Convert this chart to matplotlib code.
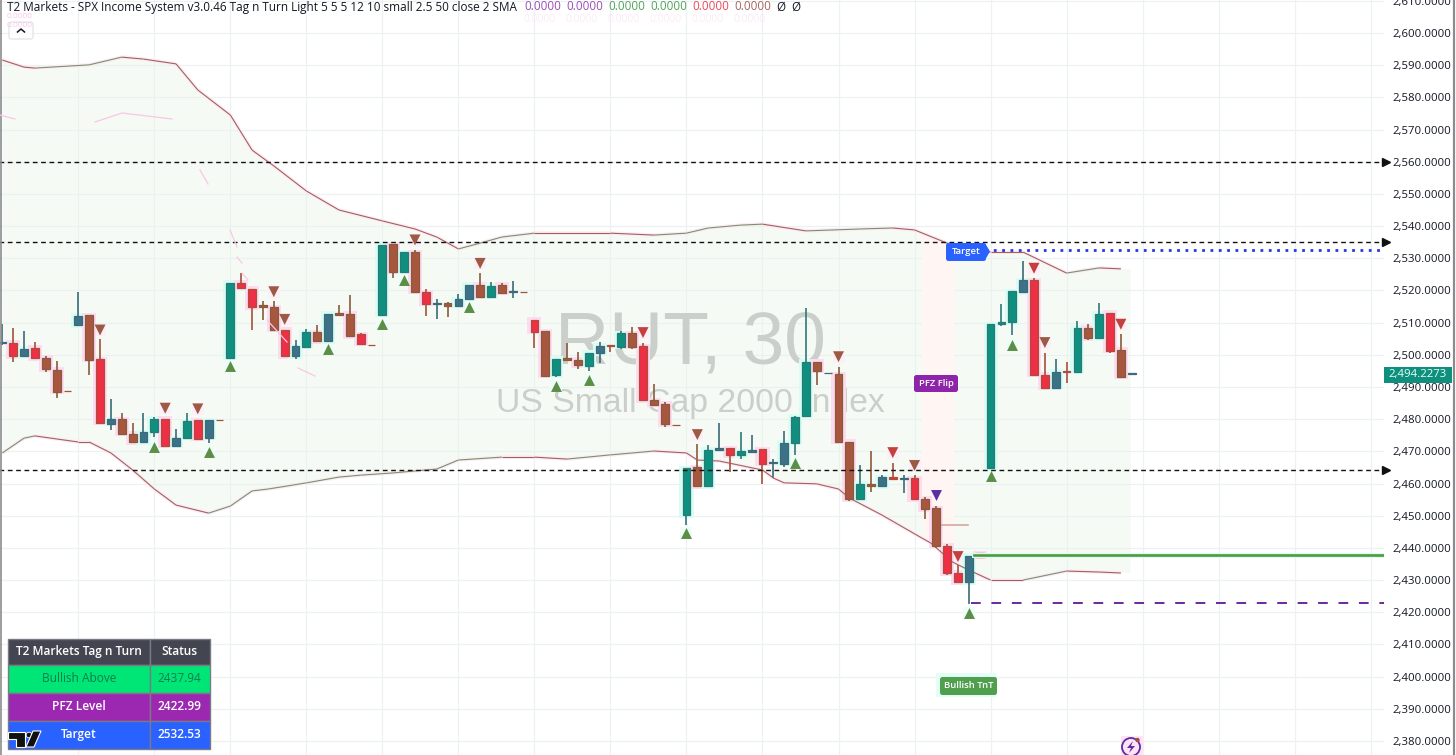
#!/usr/bin/env python3
# RUT 30 minute chart with T2 Markets Tag n Turn overlay
import numpy as np
import matplotlib
matplotlib.use('Agg')
import matplotlib.pyplot as plt
from matplotlib.collections import LineCollection
from matplotlib.patches import FancyBboxPatch, Polygon, Rectangle, Circle

# ---------------- data ----------------
OPENS = [2503.6, 2503.8, 2499.6, 2502.1, 2499.0, 2495.4, 2488.7, 2509.2, 2512.3, 2498.6,
         2478.6, 2480.0, 2475.4, 2472.9, 2476.1, 2480.1, 2471.8, 2474.3, 2479.7, 2474.3,
         2479.7, 2499.1, 2522.4, 2520.5, 2515.5, 2514.8, 2507.7, 2499.6, 2502.5, 2507.0,
         2504.3, 2512.9, 2512.8, 2506.4, 2503.0, 2512.5, 2534.4, 2525.8, 2531.8, 2519.4,
         2515.8, 2516.0, 2515.3, 2517.4, 2521.7, 2518.0, 2521.7, 2519.5, 2519.5, 2510.8,
         2507.3, 2493.7, 2499.1, 2498.5, 2496.6, 2500.5, 2502.9, 2502.5, 2506.7, 2502.7,
         2485.8, 2484.7, 2478.3, 2450.2, 2465.0, 2459.2, 2470.3, 2470.9, 2468.8, 2469.9,
         2470.7, 2466.5, 2466.2, 2472.7, 2481.1, 2497.8, 2494.2, 2493.9, 2472.9, 2455.2,
         2459.9, 2459.2, 2462.0, 2461.4, 2461.6, 2455.2, 2452.3, 2440.7, 2432.2, 2429.3,
         2438.3, 2464.7, 2509.7, 2510.1, 2519.4, 2523.1, 2493.8, 2489.8, 2494.9, 2494.7,
         2508.4, 2505.1, 2513.1, 2501.5, 2494.1]
HIGHS = [2509.5, 2508.2, 2507.4, 2504.1, 2499.6, 2498.0, 2488.7, 2519.5, 2512.3, 2504.8,
         2486.2, 2482.0, 2478.9, 2481.8, 2480.6, 2480.1, 2476.8, 2481.8, 2479.7, 2479.6,
         2479.7, 2522.4, 2525.3, 2520.5, 2516.7, 2516.7, 2507.7, 2504.6, 2507.9, 2509.3,
         2512.8, 2515.5, 2518.6, 2506.9, 2503.0, 2534.1, 2534.4, 2531.8, 2532.6, 2520.5,
         2517.2, 2516.3, 2518.8, 2521.7, 2525.5, 2522.7, 2522.2, 2522.9, 2519.5, 2510.8,
         2507.3, 2498.8, 2503.6, 2500.9, 2500.6, 2504.1, 2502.9, 2507.4, 2508.5, 2503.6,
         2490.9, 2485.2, 2478.3, 2464.7, 2472.3, 2472.0, 2478.9, 2470.9, 2475.9, 2475.1,
         2470.7, 2467.5, 2476.2, 2481.1, 2514.4, 2497.8, 2494.3, 2496.3, 2472.9, 2465.8,
         2470.1, 2462.7, 2466.5, 2462.6, 2462.7, 2455.7, 2453.0, 2441.1, 2434.7, 2437.5,
         2438.3, 2509.5, 2515.8, 2519.8, 2529.2, 2523.8, 2500.7, 2498.6, 2497.7, 2510.5,
         2509.5, 2516.0, 2513.1, 2506.5, 2494.2]
LOWS = [2503.0, 2497.9, 2499.6, 2499.0, 2494.8, 2486.5, 2488.6, 2509.2, 2493.8, 2478.9,
        2476.6, 2475.5, 2472.5, 2472.9, 2474.4, 2471.7, 2471.8, 2474.3, 2473.9, 2472.5,
        2479.6, 2499.1, 2520.5, 2507.7, 2510.8, 2507.8, 2499.6, 2498.7, 2502.5, 2503.9,
        2504.3, 2512.1, 2505.4, 2503.4, 2502.9, 2512.5, 2524.0, 2525.8, 2519.3, 2512.2,
        2511.2, 2511.7, 2515.3, 2517.4, 2518.0, 2518.0, 2518.8, 2517.6, 2519.4, 2502.2,
        2493.0, 2493.2, 2498.5, 2495.5, 2494.9, 2497.6, 2501.0, 2501.9, 2501.7, 2485.8,
        2484.5, 2477.7, 2478.2, 2447.1, 2459.2, 2459.2, 2470.3, 2463.7, 2467.7, 2469.9,
        2459.8, 2461.8, 2465.2, 2469.0, 2481.1, 2490.6, 2494.2, 2473.0, 2454.5, 2454.9,
        2457.5, 2458.8, 2461.3, 2457.2, 2455.2, 2449.1, 2439.9, 2431.6, 2429.3, 2422.6,
        2437.2, 2464.7, 2509.0, 2506.0, 2519.4, 2493.8, 2489.8, 2489.8, 2491.1, 2494.7,
        2504.6, 2505.1, 2500.7, 2493.2, 2494.1]
CLOSES = [2504.0, 2499.6, 2501.8, 2499.0, 2495.5, 2488.5, 2488.6, 2512.1, 2498.5, 2478.9,
          2480.0, 2475.5, 2472.8, 2475.9, 2480.1, 2471.7, 2474.0, 2479.4, 2473.9, 2479.6,
          2479.6, 2522.4, 2520.9, 2514.7, 2514.7, 2507.8, 2499.6, 2502.6, 2507.0, 2504.3,
          2512.8, 2512.5, 2505.8, 2503.4, 2502.9, 2534.1, 2525.8, 2531.8, 2519.6, 2515.9,
          2516.0, 2515.3, 2517.3, 2521.7, 2518.0, 2521.5, 2519.3, 2519.7, 2519.4, 2507.2,
          2493.5, 2498.8, 2498.5, 2496.7, 2500.6, 2502.8, 2502.7, 2506.7, 2502.5, 2485.8,
          2484.5, 2478.4, 2478.2, 2464.7, 2459.2, 2470.4, 2470.9, 2468.8, 2470.0, 2470.3,
          2466.2, 2466.7, 2472.7, 2480.8, 2497.8, 2495.0, 2494.3, 2473.0, 2455.1, 2459.9,
          2459.3, 2461.9, 2461.3, 2461.6, 2455.2, 2452.1, 2440.7, 2432.2, 2429.3, 2437.5,
          2437.2, 2509.5, 2510.1, 2519.8, 2523.1, 2493.8, 2489.8, 2494.7, 2494.7, 2508.4,
          2505.1, 2512.8, 2501.3, 2493.2, 2494.2273]

UPPER_BARS = [0, 2, 3, 8, 11, 13, 16, 18, 21, 23, 25, 28, 31, 35, 38, 40, 42, 44, 46, 49,
              56, 60, 63, 65, 68, 70, 74, 79, 82, 84, 87, 91, 94, 98, 101, 103]
UPPER_BAND = [2591.6, 2589.4, 2589.1, 2590.1, 2592.5, 2591.9, 2590.4, 2582.3, 2574.5, 2563.6,
              2558.7, 2550.9, 2545.0, 2541.6, 2539.1, 2536.6, 2532.9, 2534.7, 2536.6, 2537.8,
              2537.8, 2537.2, 2537.8, 2539.4, 2540.3, 2540.6, 2538.5, 2539.1, 2539.4, 2538.8,
              2534.7, 2531.9, 2531.9, 2525.4, 2527.0, 2526.7]
LOWER_BARS = [0, 2, 3, 7, 8, 10, 12, 14, 16, 19, 21, 23, 24.5, 28, 31, 33, 36, 40, 42, 46,
              49, 52, 56, 60, 63, 64, 66, 70, 71, 72, 75, 77, 78, 81, 84.5, 85.5, 87.5, 89,
              91, 94, 98, 101, 103]
LOWER_BAND = [2469.5, 2474.1, 2474.8, 2472.9, 2472.9, 2469.5, 2464.2, 2458.3, 2453.3, 2450.8,
              2453.0, 2457.7, 2458.3, 2460.2, 2462.0, 2462.6, 2463.3, 2464.5, 2467.3, 2468.2,
              2468.2, 2467.6, 2468.9, 2470.1, 2469.5, 2467.3, 2467.0, 2464.2, 2461.7, 2460.2,
              2459.9, 2458.3, 2455.5, 2450.2, 2443.4, 2441.5, 2435.6, 2433.1,
              2430.0, 2430.0, 2432.8, 2432.5, 2432.2]

TRI_UP_BARS = [14, 19, 21, 30, 35, 37, 43, 51, 54, 63, 73, 89, 91, 93]
TRI_UP_PRICES = [2471.5, 2469.9, 2496.6, 2501.8, 2509.6, 2523.2, 2514.7, 2490.3, 2492.2,
                 2444.5, 2466.3, 2419.9, 2462.3, 2503.1]
TRI_DOWN_BARS = [9, 15, 18, 25, 26, 38, 44, 59, 64, 77, 82, 84, 88, 95, 96, 103]
TRI_DOWN_PRICES = [2507.7, 2483.4, 2483.2, 2519.6, 2511.0, 2535.7, 2528.4, 2506.9, 2475.2,
                   2499.4, 2469.6, 2465.6, 2437.3, 2526.9, 2503.8, 2509.5]
FLIP_BAR, FLIP_PRICE = 86, 2456.4

LEVELS_DASHED = [2560.0, 2535.0, 2464.3]
TARGET = 2532.53
BULLISH_ABOVE = 2437.94
PFZ_LEVEL = 2422.99
STUB_LEVEL = 2447.2
LAST_PRICE = 2494.2273

PRICE_TICKS = list(range(2380, 2620, 10))
TABLE_ROWS = ['Bullish Above', 'PFZ Level', 'Target']
TABLE_VALUES = ['2437.94', '2422.99', '2532.53']

# ---------------- style ----------------
plt.rcParams['font.family'] = ['Open Sans', 'DejaVu Sans']

BLUE_UP = {0, 2, 7, 10, 13, 16, 19, 27, 30, 40, 42, 43, 47, 55, 66, 69, 71, 72, 76, 81, 83, 89, 94, 97, 104}
BROWN_DOWN = {4, 5, 8, 11, 12, 24, 25, 29, 31, 32, 36, 38, 41, 44, 46, 50, 52, 53, 58, 60, 61,
              64, 75, 77, 78, 80, 85, 86, 90, 100, 103}
RED_TRIS = {59, 82, 88, 95, 103}

BAR_PX = 10.86
X0_PX = 2.3
PLOT_R_PX = 1384
PX_PER_PT = 3.218
W, H = 1456, 755

fig = plt.figure(figsize=(W / 100, H / 100), dpi=100, facecolor='white')
ax = fig.add_axes([0, 0, PLOT_R_PX / W, 1])
ax.set_xlim(-X0_PX / BAR_PX, (PLOT_R_PX - X0_PX) / BAR_PX)
ax.set_ylim(2600 - (H - 33) / PX_PER_PT, 2600 + 33 / PX_PER_PT)
for s in ax.spines.values():
    s.set_visible(False)
ax.yaxis.tick_right()
ax.set_yticks(PRICE_TICKS)
ax.set_yticklabels([f'{v:,.4f}' for v in PRICE_TICKS], fontsize=8.2, color='#131722')
ax.set_xticks(np.arange(7, 128, 7))
ax.set_xticklabels([])
ax.tick_params(length=0, pad=5.8)
ax.grid(True, color='#eef0f3', lw=0.9)
ax.set_axisbelow(True)

bars = np.arange(len(OPENS))
opens, highs, lows, closes = map(np.array, (OPENS, HIGHS, LOWS, CLOSES))

# band fill, the flip zone and the band outline
fill_x = UPPER_BARS + [103.9, 103.9] + LOWER_BARS[::-1]
fill_y = UPPER_BAND + [UPPER_BAND[-1], LOWER_BAND[-1]] + LOWER_BAND[::-1]
ax.fill(fill_x, fill_y, color='#e8f5e9', alpha=0.42, lw=0, zorder=1)
pink = ax.fill(fill_x, fill_y, color='#fff6f4', lw=0, zorder=1.1)[0]
pink.set_clip_path(Rectangle((84.7, 2400), 2.9, 200, transform=ax.transData))


def band(xs, ys):
    pts = np.column_stack([xs, ys])
    segs = np.stack([pts[:-1], pts[1:]], axis=1)
    cols = ['#76946a' if y1 > y0 else '#a0635a' for y0, y1 in zip(ys[:-1], ys[1:])]
    ax.add_collection(LineCollection(segs, colors='#feeaf5', linewidths=2.6, zorder=2.5))
    ax.add_collection(LineCollection(segs, colors=cols, linewidths=0.8, zorder=3.5))


band(UPPER_BARS, UPPER_BAND)
band(LOWER_BARS, LOWER_BAND)

# watermark
ax.text(63.4, 2503, 'RUT, 30', fontsize=54, color='#cbcfcb', family='Liberation Sans',
        ha='center', va='center', zorder=2)
ax.text(63.4, 2484.9, 'US Small Cap 2000 Index', fontsize=24.3, color='#cbcfcb',
        family='Liberation Sans', ha='center', va='center', zorder=2)

# candles
body_cols, edge_cols, glow_cols = [], [], []
for i in bars:
    if closes[i] >= opens[i]:
        body_cols.append('#3c7288' if i in BLUE_UP else '#0f8f7d')
        edge_cols.append('#3b6a78' if i in BLUE_UP else '#2c7a78')
        glow_cols.append('#d9fcf5')
    else:
        body_cols.append('#a8573f' if i in BROWN_DOWN else '#ee2f45')
        edge_cols.append('#8a5a3c' if i in BROWN_DOWN else '#a8503c')
        glow_cols.append('#fddcf0')

top = np.maximum(opens, closes)
bot = np.minimum(opens, closes)
big = (top - bot) > 1.0
ax.bar(bars[big], (top - bot)[big] + 1.6, bottom=bot[big] - 0.8, width=1.3,
       color=np.array(glow_cols)[big], lw=0, zorder=2.8)
ax.vlines(bars, lows, highs, colors=edge_cols, lw=1.2, zorder=3)
ax.bar(bars, top - bot, bottom=bot, width=0.72, color=body_cols, edgecolor=edge_cols,
       lw=0.9, zorder=4)

# signal triangles
ax.scatter(TRI_UP_BARS, TRI_UP_PRICES, marker='s', s=85, color='#effdf9', lw=0, zorder=2.7)
ax.scatter(TRI_DOWN_BARS, TRI_DOWN_PRICES, marker='s', s=85, color='#feeef7', lw=0, zorder=2.7)
ax.scatter(TRI_UP_BARS, TRI_UP_PRICES, marker='^', s=62, color='#5b8f47', lw=0, zorder=4.5)
ax.scatter(TRI_DOWN_BARS, TRI_DOWN_PRICES, marker='v', s=62, lw=0, zorder=4.5,
           color=['#c2413f' if b in RED_TRIS else '#9c5a44' for b in TRI_DOWN_BARS])
ax.scatter([FLIP_BAR], [FLIP_PRICE], marker='v', s=62, color='#5e2ca5', lw=0, zorder=4.5)

# levels
xmax = ax.get_xlim()[1]
for lvl in LEVELS_DASHED:
    ax.plot([-1, xmax], [lvl, lvl], color='#111111', lw=1.0, dashes=(3.4, 2.6), zorder=5)
    ax.plot([xmax + 0.2], [lvl], marker='>', ms=5.5, color='#111111', clip_on=False, zorder=6)
ax.plot([90.5, xmax], [TARGET, TARGET], color='#2a35e8', lw=2.0, dashes=(1.0, 2.0), zorder=5)
ax.plot([89.5, xmax], [BULLISH_ABOVE] * 2, color='#d9fbf3', lw=3.6, zorder=4.8)
ax.plot([89.5, xmax], [BULLISH_ABOVE] * 2, color='#4f9a3c', lw=1.9, zorder=5)
ax.plot([89.2, xmax], [PFZ_LEVEL] * 2, color='#6a2a9a', lw=1.4, dashes=(5, 5.5), zorder=5)
ax.plot([86.4, 88.9], [STUB_LEVEL] * 2, color='#d9a79f', lw=1.2, zorder=3.5)

# ---------------- overlay in pixels: labels, table, icons ----------------
ov = fig.add_axes([0, 0, 1, 1], facecolor='none')
ov.set_xlim(0, W)
ov.set_ylim(H, 0)
ov.axis('off')

ov.plot([0.8, 0.8], [0, H], color='#8c8c8c', lw=1.2)
ov.plot([1453.5, 1453.5], [0, H], color='#8c8c8c', lw=1.6)

# faint ghost lines of the hidden plots
ghosts = [[(0, 115), (15, 119)], [(95, 122), (122, 113), (172, 119)], [(200, 170), (208, 184)],
          [(230, 230), (237, 247)], [(237, 257), (242, 263)], [(242, 273), (248, 280)],
          [(267, 320), (287, 342)], [(298, 368), (315, 376)]]
for g in ghosts:
    ov.plot(*zip(*g), color='#fbc6e6', lw=0.9)

# legend line
TXT = '#131722'
ov.text(7, 7, 'T2 Markets - SPX Income System v3.0.46 Tag n Turn Light 5 5 5 12 10 small 2.5 50 close 2 SMA',
        fontsize=8.48, color=TXT, va='center', ha='left')
for xp, col in zip([524, 566, 608, 650, 692, 734],
                   ['#9c4fb5', '#9c4fb5', '#4fa35a', '#4fa35a', '#f0485c', '#a5665c']):
    ov.text(xp, 19, '0.0000', fontsize=7.5, color='#fbd3ec', va='center', alpha=0.45)
    ov.text(xp, 7, '0.0000', fontsize=8.48, color=col, va='center')
ov.text(776, 7, 'Ø', fontsize=8.4, color=TXT, va='center')
ov.text(791, 7, 'Ø', fontsize=8.4, color=TXT, va='center')
ov.text(7, 16, '0.0000', fontsize=6, color='#fbc6e6', va='center')
ov.text(7, 25.5, '0.0000', fontsize=6, color='#fbc6e6', va='center')

# collapse button
ov.add_patch(FancyBboxPatch((9, 22), 24, 17, boxstyle='round,pad=0,rounding_size=2.5',
                            fc='white', ec='#dcdfe6', lw=0.9, alpha=0.85))
ov.plot([17.5, 21, 24.5], [32, 29, 32], color='#131722', lw=1.1)


def pill(x0, y0, x1, y1, txt, col, fs=6.8):
    ov.add_patch(FancyBboxPatch((x0, y0), x1 - x0, y1 - y0, boxstyle='round,pad=0,rounding_size=2.5',
                                fc=col, ec='none', zorder=7))
    ov.text((x0 + x1) / 2, (y0 + y1) / 2 - 0.3, txt, fontsize=fs, color='white', weight='semibold',
            ha='center', va='center', zorder=8)


ov.add_patch(Polygon([(985, 243), (990, 251.5), (985, 260)], fc='#2962ff', ec='none', zorder=7))
pill(946, 243, 986, 261, 'Target', '#2962ff')
pill(914, 375, 958, 392, 'PFZ Flip', '#8e24aa')
ov.add_patch(Rectangle((936, 673), 60, 24, fc='#e3fdf7', ec='none', zorder=6))
pill(940, 677, 997, 695, 'Bullish TnT', '#4f9f4f')

# last price tag
ov.add_patch(Rectangle((1384, 367), 68, 16, fc='#0f8f7d', ec='none', zorder=7))
ov.text(1447, 375, f'{LAST_PRICE:,.4f}', fontsize=8.2, color='#eafff9', ha='right', va='center', zorder=8)

# status table
TL, TM, TR = 8, 150, 209.5
rows_y = [639, 665, 693, 721, 749]
fills = ['#434651', '#00e676', '#9c27b0', '#2962ff']
txtc = ['white', '#0c7b50', 'white', 'white']
labels = ['T2 Markets Tag n Turn'] + TABLE_ROWS
vals = ['Status'] + TABLE_VALUES
for r in range(4):
    y0, y1 = rows_y[r], rows_y[r + 1]
    for xa, xb, s in ((TL, TM, labels[r]), (TM, TR, vals[r])):
        ov.add_patch(Rectangle((xa, y0), xb - xa, y1 - y0, fc=fills[r], ec='#787b86', lw=1.0, zorder=7))
        ov.text((xa + xb) / 2, (y0 + y1) / 2 - 0.5, s, fontsize=8.6, color=txtc[r], ha='center', va='center',
                weight='semibold' if r != 1 else 'normal', zorder=8)

# TV logo
ov.add_patch(Polygon([(8, 732), (25, 732), (25, 747), (16, 747), (16, 739), (8, 739)], fc='#111111',
                     ec='white', lw=0.8, zorder=9))
ov.add_patch(Circle((29, 735), 2.8, fc='#111111', ec='white', lw=0.6, zorder=9))
ov.add_patch(Polygon([(33, 731), (41, 731), (34, 747), (26, 747)], fc='#111111', ec='white', lw=0.8, zorder=9))

# lightning icon
ov.add_patch(Rectangle((1121, 736), 22, 19, fc='#fde3f5', ec='none', zorder=6))
ov.add_patch(Circle((1131, 747), 9, fc='none', ec='#5e2ca5', lw=1.3, zorder=7))
ov.add_patch(Polygon([(1133, 741), (1127, 748), (1131, 748), (1129, 753), (1135, 746), (1131, 746)],
                     fc='#5e2ca5', ec='none', zorder=7))
ov.add_patch(Circle((1137.5, 740), 2.2, fc='#a0503c', ec='none', zorder=8))

fig.savefig('out.png', dpi=100)
plt.close(fig)
